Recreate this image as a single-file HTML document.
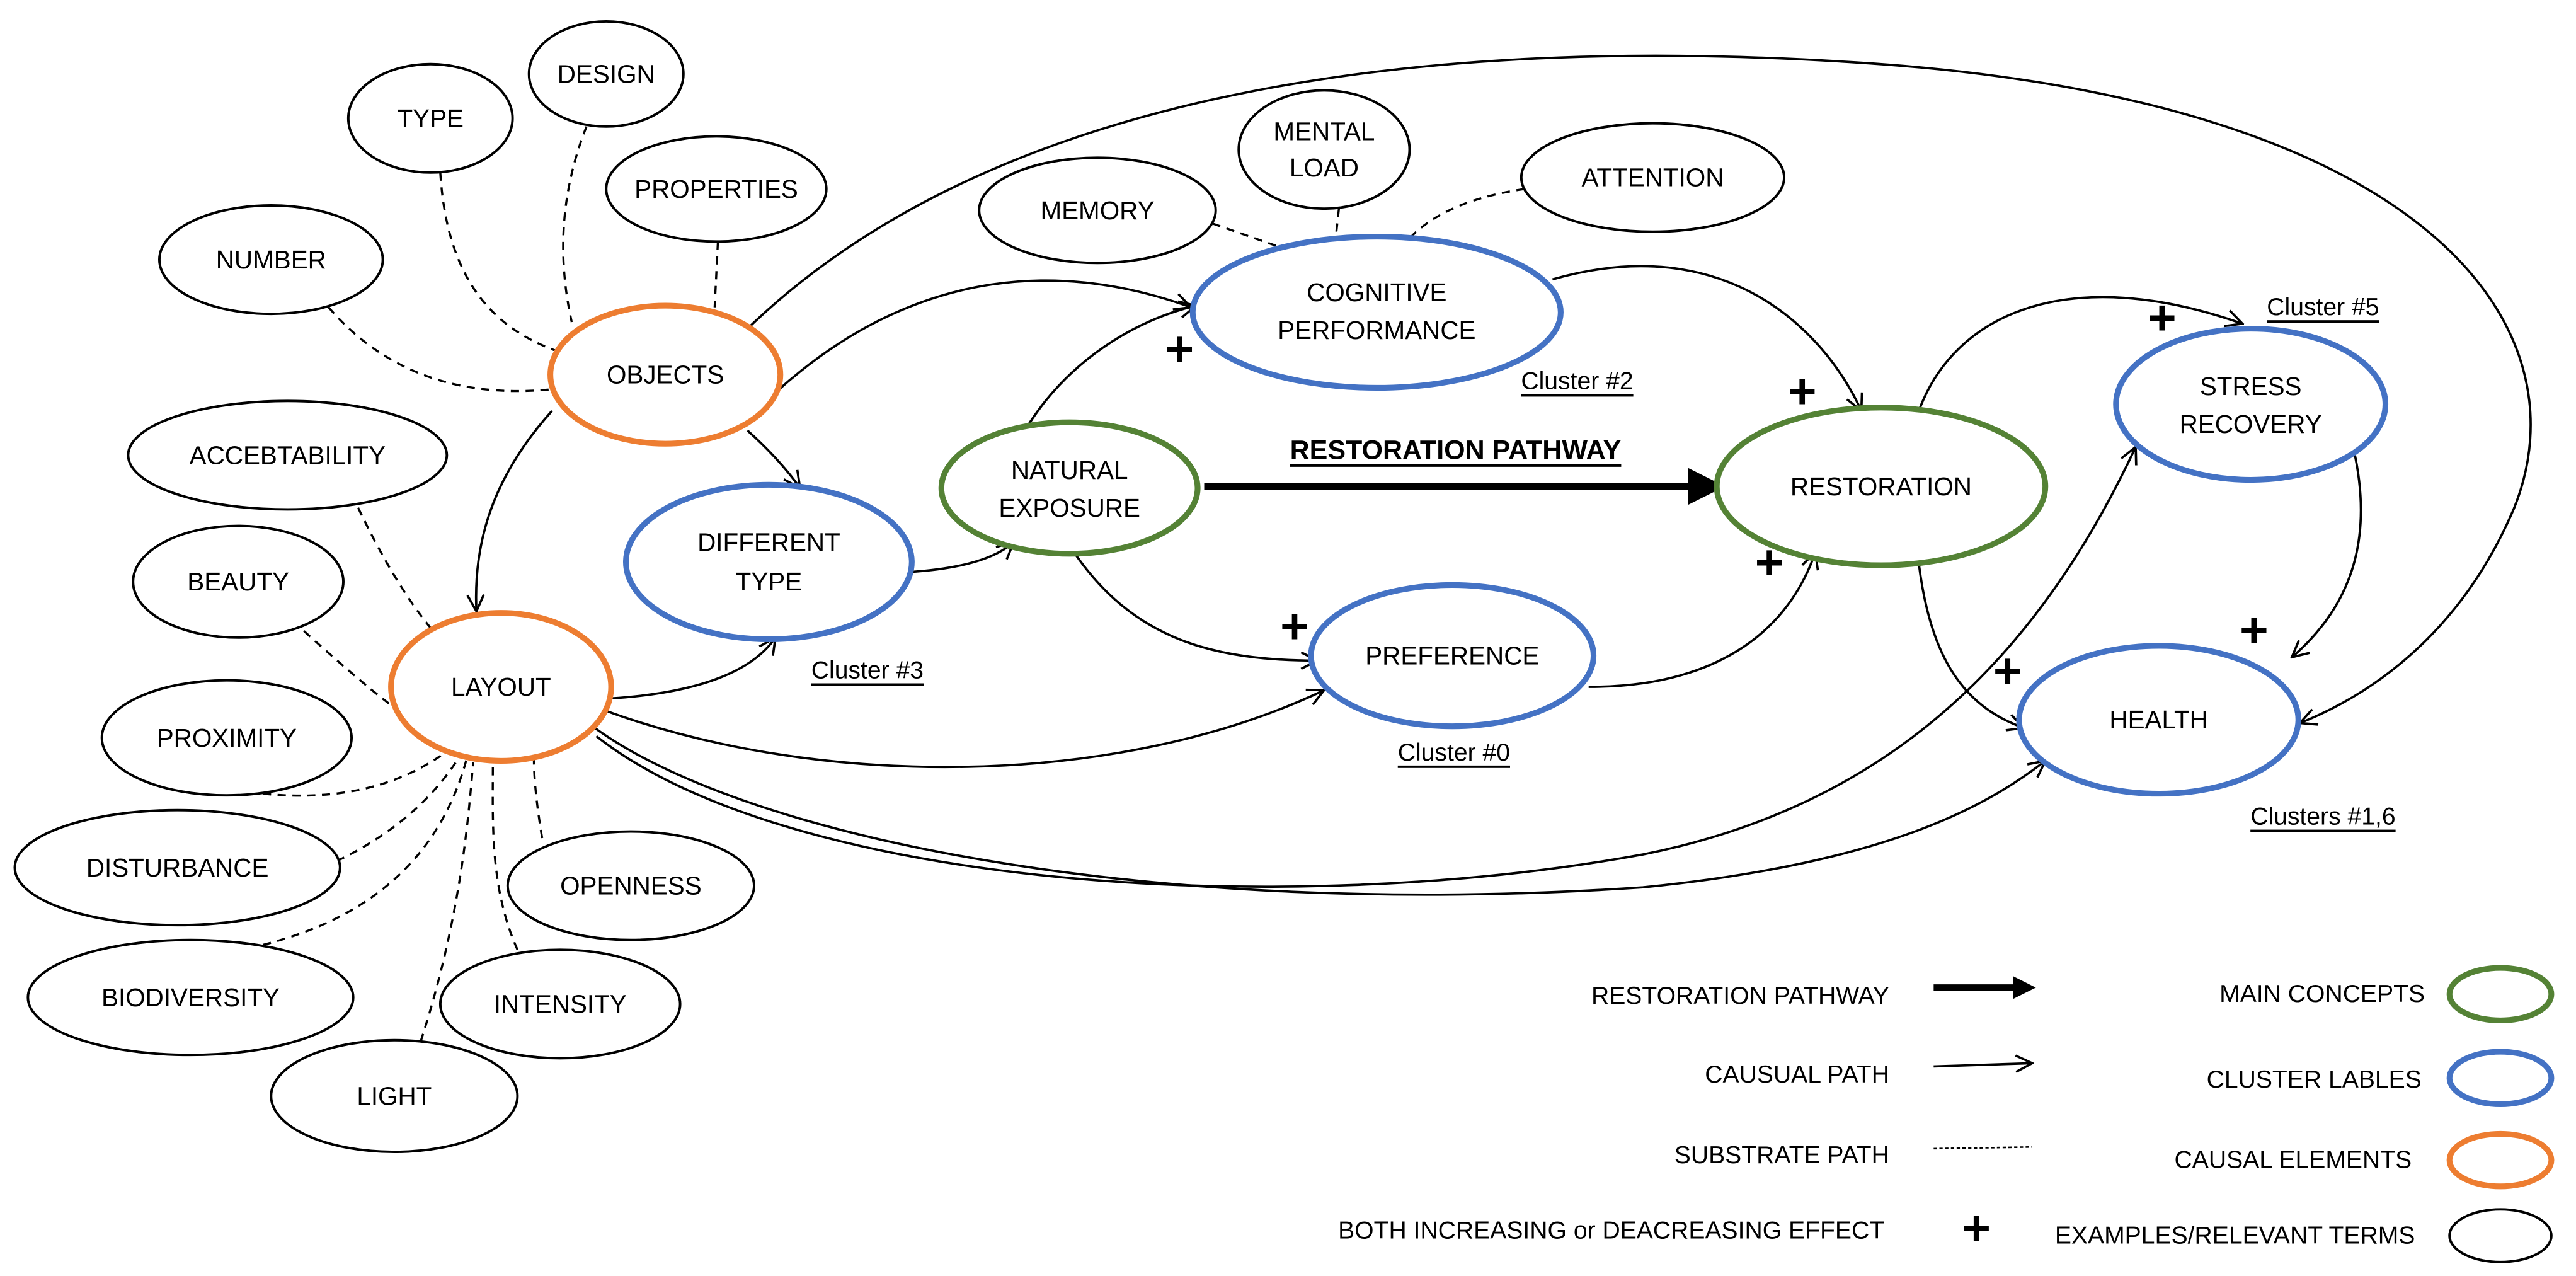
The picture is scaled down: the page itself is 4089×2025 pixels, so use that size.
<!DOCTYPE html>
<html><head><meta charset="utf-8"><style>
html,body{margin:0;padding:0;background:#fff;}
svg{display:block;}
text{font-family:"Liberation Sans Narrow","Liberation Sans",sans-serif;font-size:15.5px;fill:#000;text-anchor:middle;dominant-baseline:central;}
.u{text-decoration:underline;font-size:15px;}
.l{text-anchor:end;font-size:15px;}
.r{text-anchor:end;font-size:15px;}
.k{fill:#fff;stroke:#000;stroke-width:1.5;}
.o{fill:#fff;stroke:#ED7D31;stroke-width:3.5;}
.b{fill:#fff;stroke:#4472C4;stroke-width:3.5;}
.g{fill:#fff;stroke:#548235;stroke-width:3.5;}
.e{fill:none;stroke:#000;stroke-width:1.4;}
.d{fill:none;stroke:#000;stroke-width:1.3;stroke-dasharray:5 4;}
.p{font-size:30px;font-weight:bold;font-family:"Liberation Sans",sans-serif;}
</style></head><body>
<svg width="4089" height="2025" viewBox="0 0 1568 776.5" xmlns="http://www.w3.org/2000/svg">
<defs>
<marker id="a" viewBox="0 0 12 12" refX="11" refY="6" markerWidth="12" markerHeight="12" markerUnits="userSpaceOnUse" orient="auto">
<path d="M1,1 L11,6 L1,11" fill="none" stroke="#000" stroke-width="1.4"/></marker>
<marker id="t" viewBox="0 0 10 10" refX="2" refY="5" markerWidth="5" markerHeight="5" orient="auto">
<path d="M0,0 L10,5 L0,10 z" fill="#000"/></marker>
<marker id="t2" viewBox="0 0 10 10" refX="2" refY="5" markerWidth="3.5" markerHeight="3.5" orient="auto">
<path d="M0,0 L10,5 L0,10 z" fill="#000"/></marker>
</defs>
<path class="d" d="M357,77 C340,120 340,160 348,196"/>
<path class="d" d="M268,105 C272,170 300,200 340,214"/>
<path class="d" d="M437,147 L435,187"/>
<path class="d" d="M200,187 Q250,245 335,237"/>
<path class="d" d="M738,136 L778,150"/>
<path class="d" d="M815,127 L813,145"/>
<path class="d" d="M928,115 Q880,122 858,145"/>
<path class="d" d="M218,309 Q240,355 262,382"/>
<path class="d" d="M185,384 Q225,420 242,432"/>
<path class="d" d="M160,483 Q230,490 275,455"/>
<path class="d" d="M205,524 Q255,500 280,460"/>
<path class="d" d="M160,575 Q260,550 284,462"/>
<path class="d" d="M256,634 C280,560 285,500 288,464"/>
<path class="d" d="M315,578 C298,540 300,500 300,465"/>
<path class="d" d="M330,510 Q325,480 325,462"/>
<path class="e" d="M455,200 C600,60 850,20 1130,38 C1480,60 1575,200 1530,310 C1500,380 1450,420 1400,440" marker-end="url(#a)"/>
<path class="e" d="M473,238 C560,160 650,160 725,187" marker-end="url(#a)"/>
<path class="e" d="M455,262 Q475,280 487,297" marker-end="url(#a)"/>
<path class="e" d="M336,250 C300,290 288,330 290,372" marker-end="url(#a)"/>
<path class="e" d="M372,425 Q450,420 472,388" marker-end="url(#a)"/>
<path class="e" d="M370,433 C500,480 680,480 806,420" marker-end="url(#a)"/>
<path class="e" d="M363,448 C480,540 780,560 1000,520 C1150,490 1240,400 1300,272" marker-end="url(#a)"/>
<path class="e" d="M358,440 C450,510 700,560 1000,540 C1150,525 1210,490 1245,463" marker-end="url(#a)"/>
<path class="e" d="M555,348 Q600,345 617,330" marker-end="url(#a)"/>
<path class="e" d="M625,260 C650,220 690,195 728,186" marker-end="url(#a)"/>
<path class="e" d="M653,335 C690,390 740,402 802,402" marker-end="url(#a)"/>
<path class="e" d="M945,170 C1050,140 1110,200 1133,250" marker-end="url(#a)"/>
<path class="e" d="M967,418 C1050,418 1090,380 1105,336" marker-end="url(#a)"/>
<path class="e" d="M1168,250 C1190,190 1260,160 1365,197" marker-end="url(#a)"/>
<path class="e" d="M1168,343 C1175,400 1195,430 1232,443" marker-end="url(#a)"/>
<path class="e" d="M1433,275 C1445,330 1430,370 1395,400" marker-end="url(#a)"/>
<line x1="733" y1="296" x2="1032" y2="296" stroke="#000" stroke-width="4.5" marker-end="url(#t)"/>
<ellipse class="k" cx="369" cy="45" rx="47" ry="32"/><text x="369" y="45">DESIGN</text>
<ellipse class="k" cx="262" cy="72" rx="50" ry="33"/><text x="262" y="72">TYPE</text>
<ellipse class="k" cx="436" cy="115" rx="67" ry="32"/><text x="436" y="115">PROPERTIES</text>
<ellipse class="k" cx="165" cy="158" rx="68" ry="33"/><text x="165" y="158">NUMBER</text>
<ellipse class="o" cx="405" cy="228" rx="70" ry="42"/><text x="405" y="228">OBJECTS</text>
<ellipse class="k" cx="668" cy="128" rx="72" ry="32"/><text x="668" y="128">MEMORY</text>
<ellipse class="k" cx="806" cy="91" rx="52" ry="36"/><text x="806" y="80">MENTAL</text><text x="806" y="102">LOAD</text>
<ellipse class="k" cx="1006" cy="108" rx="80" ry="33"/><text x="1006" y="108">ATTENTION</text>
<ellipse class="b" cx="838" cy="190" rx="112" ry="46"/><text x="838" y="178">COGNITIVE</text><text x="838" y="201">PERFORMANCE</text>
<ellipse class="k" cx="175" cy="277" rx="97" ry="33"/><text x="175" y="277">ACCEBTABILITY</text>
<ellipse class="k" cx="145" cy="354" rx="64" ry="34"/><text x="145" y="354">BEAUTY</text>
<ellipse class="o" cx="305" cy="418" rx="67" ry="45"/><text x="305" y="418">LAYOUT</text>
<ellipse class="b" cx="468" cy="342" rx="87" ry="47"/><text x="468" y="330">DIFFERENT</text><text x="468" y="354">TYPE</text>
<ellipse class="g" cx="651" cy="297" rx="78" ry="40"/><text x="651" y="286">NATURAL</text><text x="651" y="309">EXPOSURE</text>
<ellipse class="g" cx="1145" cy="296" rx="100" ry="48"/><text x="1145" y="296">RESTORATION</text>
<ellipse class="b" cx="1370" cy="246" rx="82" ry="46"/><text x="1370" y="235">STRESS</text><text x="1370" y="258">RECOVERY</text>
<ellipse class="b" cx="884" cy="399" rx="86" ry="43"/><text x="884" y="399">PREFERENCE</text>
<ellipse class="b" cx="1314" cy="438" rx="85" ry="45"/><text x="1314" y="438">HEALTH</text>
<ellipse class="k" cx="138" cy="449" rx="76" ry="35"/><text x="138" y="449">PROXIMITY</text>
<ellipse class="k" cx="108" cy="528" rx="99" ry="35"/><text x="108" y="528">DISTURBANCE</text>
<ellipse class="k" cx="384" cy="539" rx="75" ry="33"/><text x="384" y="539">OPENNESS</text>
<ellipse class="k" cx="116" cy="607" rx="99" ry="35"/><text x="116" y="607">BIODIVERSITY</text>
<ellipse class="k" cx="341" cy="611" rx="73" ry="33"/><text x="341" y="611">INTENSITY</text>
<ellipse class="k" cx="240" cy="667" rx="75" ry="34"/><text x="240" y="667">LIGHT</text>
<text class="u" x="960" y="232">Cluster #2</text>
<text class="u" x="528" y="408">Cluster #3</text>
<text class="u" x="885" y="458">Cluster #0</text>
<text class="u" x="1414" y="187">Cluster #5</text>
<text class="u" x="1414" y="497">Clusters #1,6</text>
<text x="886" y="274" style="font-weight:bold;text-decoration:underline;font-size:16.5px">RESTORATION PATHWAY</text>
<text class="p" x="718" y="212">+</text><text class="p" x="1097" y="238">+</text><text class="p" x="788" y="381">+</text>
<text class="p" x="1077" y="342">+</text><text class="p" x="1316" y="193">+</text><text class="p" x="1372" y="383">+</text><text class="p" x="1222" y="408">+</text>
<text class="l" x="1150" y="606">RESTORATION PATHWAY</text>
<text class="l" x="1150" y="654">CAUSUAL PATH</text>
<text class="l" x="1150" y="703">SUBSTRATE PATH</text>
<text class="l" x="1147" y="749">BOTH INCREASING or DEACREASING EFFECT</text>
<line x1="1177" y1="601" x2="1228" y2="601" stroke="#000" stroke-width="4" marker-end="url(#t2)"/>
<line x1="1177" y1="649" x2="1237" y2="647" class="e" marker-end="url(#a)"/>
<line x1="1177" y1="699" x2="1237" y2="698" stroke="#000" stroke-width="1" stroke-dasharray="2 1.5"/>
<text class="p" x="1203" y="747">+</text>
<text class="r" x="1476" y="605">MAIN CONCEPTS</text>
<text class="r" x="1474" y="657">CLUSTER LABLES</text>
<text class="r" x="1468" y="706">CAUSAL ELEMENTS</text>
<text class="r" x="1470" y="752">EXAMPLES/RELEVANT TERMS</text>
<ellipse class="g" cx="1522" cy="605" rx="31" ry="16"/>
<ellipse class="b" cx="1522" cy="656" rx="31" ry="16"/>
<ellipse class="o" cx="1522" cy="706" rx="31" ry="16"/>
<ellipse class="k" cx="1522" cy="752" rx="31" ry="16"/>
</svg>
</body></html>
